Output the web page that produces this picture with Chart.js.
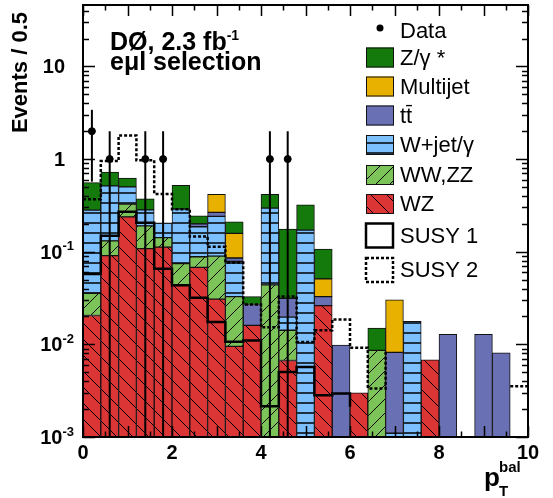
<!DOCTYPE html>
<html>
<head>
<meta charset="utf-8">
<script src="https://cdn.jsdelivr.net/npm/chart.js@4.4.1/dist/chart.umd.min.js"></script>
<style>
  html, body { margin: 0; padding: 0; background: #fff; }
</style>
</head>
<body>
<canvas id="chartCanvas" width="553" height="498"></canvas>
<script>
// --- data: 25 bins of 0.4 in pT^bal ---
const binEdges = [0, 0.4, 0.8, 1.2, 1.6, 2.0, 2.4, 2.8, 3.2, 3.6, 4.0, 4.4, 4.8,
  5.2, 5.6, 6.0, 6.4, 6.8, 7.2, 7.6, 8.0, 8.4, 8.8, 9.2, 9.6, 10.0];
const binLabels = binEdges.slice(0, -1).map(e => (e + 0.2).toFixed(1));

// stacked backgrounds, bottom to top (events per bin, null = nothing drawn)
const wz = [0.0205, 0.0906, 0.238, 0.108, 0.112, 0.0442, 0.0678, 0.0308, 0.0095, 0.016,
  null, 0.0067, null, 0.0262, null, 0.0030, null, null, null, 0.0068, null, null, null, null, null];
const wwzz = [0.0151, 0.0404, 0.088, 0.082, 0.030, 0.0301, 0.0205, 0.0587, 0.0233, null,
  0.0438, 0.0075, null, null, null, null, 0.0086, null, null, null, null, null, null, null, null];
const wjet = [0.245, 0.382, 0.174, 0.093, 0.063, 0.214, 0.0977, 0.1515, 0.0459, null,
  0.251, 0.0055, 0.171, null, null, null, null, 0.0011, 0.0177, null, null, null, null, null, null];
const ttbar = [null, null, null, null, null, null, 0.014, 0.025, 0.0068, 0.0109,
  null, 0.0116, null, 0.0066, 0.0098, null, null, 0.0071, null, null, 0.0128, null, 0.0128, 0.0081, null];
const multijet = [null, null, null, null, null, null, null, 0.149, 0.0725, null,
  null, null, null, 0.018, null, null, null, 0.0221, null, null, null, null, null, null, null];
const zgamma = [0.275, 0.211, 0.125, 0.089, null, 0.232, 0.044, null, 0.052, 0.0059,
  0.122, 0.144, 0.149, 0.056, null, null, 0.0064, null, null, null, null, null, null, null, null];

// signal expectations (step lines)
const susy1 = [0.0575, 0.149, 0.27, 0.205, 0.0655, 0.0435, 0.0318, 0.0174, 0.0107, 0.011,
  0.00215, 0.00503, 0.0057, 0.00283, 0.00295, 0.00212, 0, 0, 0.00172, 0, 0, 0, 0, 0, 0];
const susy2 = [0.368, 0.95, 1.8, 0.97, 0.42, 0.288, 0.146, 0.113, 0.0767, 0.0269,
  0.0153, 0.0328, 0.0106, 0.0142, 0.0186, 0.0092, 0.00334, 0.0085, 0, 0, 0, 0.00303, 0, 0, 0.00353];

// observed events and error bar ends
const dataCounts = [2, 1, null, 1, 1, null, null, null, null, null, 1, 1, null,
  null, null, null, null, null, null, null, null, null, null, null, null];
const dataHi = [3.4, 2, null, 2, 2, null, null, null, null, null, 2, 2, null,
  null, null, null, null, null, null, null, null, null, null, null, null];
const dataLo = [0.57, 0, null, 0, 0, null, null, null, null, null, 0, 0, null,
  null, null, null, null, null, null, null, null, null, null, null, null];

// axis ticks
const xTickValues = [0, 2, 4, 6, 8, 10];
const yTickValues = [0.001, 0.01, 0.1, 1, 10];
const yTickBase = ["10", "10", "10", "1", "10"];
const yTickExp = ["-3", "-2", "-1", "", ""];

const FONT = '"Liberation Sans", Arial, Helvetica, sans-serif';

// --- fill patterns ---
function pattern(bg, kind, size) {
  const c = document.createElement("canvas");
  c.width = size; c.height = size;
  const g = c.getContext("2d");
  g.fillStyle = bg;
  g.fillRect(0, 0, size, size);
  g.strokeStyle = "#000";
  g.beginPath();
  if (kind === "h") {
    g.lineWidth = 1.5;
    g.moveTo(0, 3); g.lineTo(size, 3);
  } else {
    g.lineWidth = 1;
    for (const k of [-size, 0, size]) {
      if (kind === "back") { g.moveTo(k, 0); g.lineTo(k + size, size); }
      else { g.moveTo(k, size); g.lineTo(k + size, 0); }
    }
  }
  g.stroke();
  return g.createPattern(c, "repeat");
}

const fills = {
  wz: pattern("#dc3535", "back", 16),
  ww: pattern("#7cc45a", "fwd", 14),
  wj: pattern("#7cc0ff", "h", 10),
  tt: "#6a70b4",
  mj: "#e8b100",
  zg: "#157a0c"
};

function stepPoints(vals) {
  const pts = vals.map((v, i) => ({ x: binEdges[i], y: v }));
  pts.push({ x: binEdges[binEdges.length - 1], y: vals[vals.length - 1] });
  return pts;
}

const dataPoints = [];
dataCounts.forEach((n, i) => {
  if (n !== null) dataPoints.push({ x: (binEdges[i] + binEdges[i + 1]) / 2, y: n, hi: dataHi[i], lo: dataLo[i] });
});

function barSet(label, data, fill) {
  return {
    type: "bar", label, data, backgroundColor: fill,
    borderColor: "#111", borderWidth: 1, borderSkipped: false,
    barPercentage: 1, categoryPercentage: 1, grouped: false,
    xAxisID: "x", yAxisID: "y", order: 2
  };
}

// --- plugins ---
const errorBars = {
  id: "errorBars",
  afterDatasetsDraw(chart) {
    const { ctx } = chart;
    const xs = chart.scales.x2, ys = chart.scales.y2;
    const a = chart.chartArea;
    ctx.save();
    ctx.beginPath();
    ctx.rect(a.left, a.top, a.right - a.left, a.bottom - a.top);
    ctx.clip();
    ctx.strokeStyle = "#000";
    ctx.lineWidth = 2;
    dataPoints.forEach(p => {
      const px = xs.getPixelForValue(p.x);
      ctx.beginPath();
      ctx.moveTo(px, ys.getPixelForValue(p.hi));
      ctx.lineTo(px, p.lo > 0 ? ys.getPixelForValue(p.lo) : a.bottom);
      ctx.stroke();
    });
    ctx.restore();
  }
};

function supText(ctx, base, exp, x, y, bsize, esize, align) {
  ctx.font = "bold " + bsize + "px " + FONT;
  const wb = ctx.measureText(base).width;
  ctx.font = "bold " + esize + "px " + FONT;
  const we = exp ? ctx.measureText(exp).width : 0;
  const x0 = align === "right" ? x - wb - we : x;
  ctx.textAlign = "left";
  ctx.textBaseline = "alphabetic";
  ctx.font = "bold " + bsize + "px " + FONT;
  ctx.fillText(base, x0, y);
  if (exp) {
    ctx.font = "bold " + esize + "px " + FONT;
    ctx.fillText(exp, x0 + wb, y - bsize * 0.42);
  }
}

const decorations = {
  id: "decorations",
  afterDraw(chart) {
    const { ctx } = chart;
    const a = chart.chartArea;
    const xs = chart.scales.x2, ys = chart.scales.y2;
    ctx.save();
    ctx.fillStyle = "#000";
    ctx.strokeStyle = "#000";

    // ticks inside the frame
    ctx.lineWidth = 1.5;
    ctx.beginPath();
    for (let e = -3; e <= 1; e++) {
      for (let m = 1; m <= 9; m++) {
        const v = m * Math.pow(10, e);
        if (v > ys.max) break;
        const py = Math.round(ys.getPixelForValue(v)) + 0.5;
        const len = m === 1 ? 12 : 6;
        ctx.moveTo(a.left, py); ctx.lineTo(a.left + len, py);
        ctx.moveTo(a.right, py); ctx.lineTo(a.right - len, py);
      }
    }
    for (let k = 0; k <= 20; k++) {
      const px = Math.round(xs.getPixelForValue(k * 0.5)) + 0.5;
      const len = k % 2 === 0 ? 11 : 5.5;
      ctx.moveTo(px, a.bottom); ctx.lineTo(px, a.bottom - len);
      ctx.moveTo(px, a.top); ctx.lineTo(px, a.top + len);
    }
    ctx.stroke();

    ctx.lineWidth = 2;
    ctx.strokeRect(a.left, a.top, a.right - a.left, a.bottom - a.top);

    // tick labels
    ctx.font = "bold 20px " + FONT;
    ctx.textAlign = "center";
    ctx.textBaseline = "alphabetic";
    xTickValues.forEach(v => ctx.fillText(String(v), xs.getPixelForValue(v), 459));
    yTickValues.forEach((v, i) => {
      const py = ys.getPixelForValue(v);
      const right = yTickExp[i] ? 74 : 65;
      supText(ctx, yTickBase[i], yTickExp[i], right, py + 7, 20, 13, "right");
    });

    // axis titles
    ctx.save();
    ctx.translate(21, 12);
    ctx.rotate(-Math.PI / 2);
    ctx.font = "bold 22px " + FONT;
    ctx.textAlign = "right";
    ctx.textBaseline = "middle";
    ctx.fillText("Events / 0.5", 0, 0);
    ctx.restore();

    ctx.textAlign = "left";
    ctx.font = "bold 26px " + FONT;
    ctx.fillText("p", 484, 486);
    ctx.font = "bold 15px " + FONT;
    ctx.fillText("bal", 499, 472);
    ctx.fillText("T", 499, 496);

    // experiment label
    supText(ctx, "DØ, 2.3 fb", "-1", 110, 50, 25, 14, "left");
    ctx.font = "bold 25px " + FONT;
    ctx.fillText("eμl selection", 110, 70);

    // legend
    const bx = 366, bw = 28, tx = 400;
    ctx.font = "22px " + FONT;
    ctx.textBaseline = "middle";
    ctx.beginPath();
    ctx.arc(380, 28, 3.5, 0, Math.PI * 2);
    ctx.fill();
    ctx.fillText("Data", tx, 32);
    const ds = chart.data.datasets;
    const rows = [
      { ds: 8, y: 57.5 },
      { ds: 7, y: 86.5 },
      { ds: 6, y: 115.5 },
      { ds: 5, y: 145 },
      { ds: 4, y: 175 },
      { ds: 3, y: 204 }
    ];
    rows.forEach(r => {
      ctx.fillStyle = ds[r.ds].backgroundColor;
      ctx.fillRect(bx, r.y - 10, bw, 20);
      ctx.lineWidth = 1;
      ctx.strokeStyle = "#111";
      ctx.strokeRect(bx + 0.5, r.y - 9.5, bw - 1, 19);
      ctx.fillStyle = "#000";
      ctx.fillText(ds[r.ds].label, tx, r.y + 1);
    });
    [{ ds: 1, y: 235.5 }, { ds: 2, y: 270 }].forEach(r => {
      ctx.lineWidth = 2.5;
      ctx.strokeStyle = "#000";
      ctx.setLineDash(ds[r.ds].borderDash || []);
      ctx.strokeRect(bx, r.y - 12, bw - 1, 24);
      ctx.setLineDash([]);
      ctx.fillText(ds[r.ds].label, tx, r.y + 1);
    });
    ctx.restore();
  }
};

// --- chart ---
new Chart(document.getElementById("chartCanvas"), {
  type: "bar",
  data: {
    labels: binLabels,
    datasets: [
      {
        type: "scatter", label: "Data", data: dataPoints, xAxisID: "x2", yAxisID: "y2", order: 0,
        pointRadius: 3.5, pointBackgroundColor: "#000", pointBorderColor: "#000", showLine: false
      },
      {
        type: "line", label: "SUSY 1", data: stepPoints(susy1), xAxisID: "x2", yAxisID: "y2", order: 1,
        stepped: true, borderColor: "#000", borderWidth: 2.5, pointRadius: 0, fill: false
      },
      {
        type: "line", label: "SUSY 2", data: stepPoints(susy2), xAxisID: "x2", yAxisID: "y2", order: 1,
        stepped: true, borderColor: "#000", borderWidth: 2.5, borderDash: [3, 2], pointRadius: 0, fill: false
      },
      barSet("WZ", wz, fills.wz),
      barSet("WW,ZZ", wwzz, fills.ww),
      barSet("W+jet/γ", wjet, fills.wj),
      barSet("tt\u0304", ttbar, fills.tt),
      barSet("Multijet", multijet, fills.mj),
      barSet("Z/γ *", zgamma, fills.zg)
    ]
  },
  options: {
    responsive: false,
    animation: false,
    devicePixelRatio: 1,
    layout: { padding: { left: 83, right: 25, top: 4, bottom: 61 } },
    plugins: { legend: { display: false }, tooltip: { enabled: false } },
    scales: {
      x: { type: "category", stacked: true, display: false, offset: true },
      y: { type: "logarithmic", stacked: true, min: 0.001, max: 46, display: false },
      x2: { type: "linear", min: 0, max: 10, display: false, offset: false },
      y2: { type: "logarithmic", min: 0.001, max: 46, display: false }
    }
  },
  plugins: [errorBars, decorations]
});
</script>
</body>
</html>
